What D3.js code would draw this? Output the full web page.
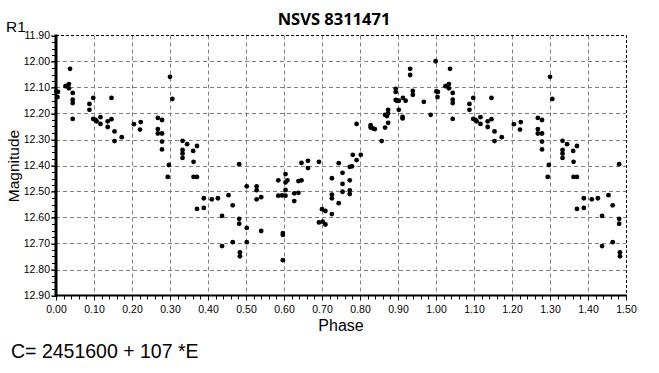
<!DOCTYPE html>
<html>
<head>
<meta charset="utf-8">
<script src="https://cdn.jsdelivr.net/npm/d3@7"></script>
<style>
  body { margin: 0; background: #fff; }
  svg { display: block; font-family: "Liberation Sans", Arial, sans-serif; }
</style>
</head>
<body>
<div class="graph"></div>
<script>
// phase 0..1 observations (phase < 0.5 is repeated at phase + 1)
const phase = [
  0.001, 0.005, 0.004, 0.025, 0.029, 0.034, 0.034, 0.037, 0.044, 0.044, 0.044, 0.044,
  0.088, 0.088, 0.098, 0.098, 0.104, 0.107, 0.117, 0.117, 0.136, 0.136, 0.146, 0.146,
  0.154, 0.154, 0.173, 0.205, 0.223, 0.221, 0.268, 0.279, 0.268, 0.268, 0.279, 0.279,
  0.279, 0.300, 0.306, 0.297, 0.294, 0.333, 0.345, 0.333, 0.333, 0.333, 0.361, 0.371,
  0.362, 0.362, 0.371, 0.371, 0.389, 0.389, 0.410, 0.426, 0.437, 0.437, 0.454, 0.465,
  0.465, 0.482, 0.482, 0.482, 0.484, 0.484, 0.502, 0.502, 0.502, 0.528, 0.528, 0.528,
  0.540, 0.540, 0.585, 0.609, 0.604, 0.604, 0.604, 0.585, 0.595, 0.604, 0.597, 0.597,
  0.597, 0.627, 0.627, 0.638, 0.638, 0.646, 0.646, 0.663, 0.663, 0.692, 0.700, 0.709,
  0.692, 0.702, 0.709, 0.726, 0.726, 0.726, 0.726, 0.744, 0.744, 0.754, 0.754, 0.754,
  0.773, 0.779, 0.773, 0.773, 0.773, 0.781, 0.791, 0.802, 0.791, 0.828, 0.828, 0.835,
  0.839, 0.857, 0.866, 0.866, 0.871, 0.874, 0.874, 0.874, 0.894, 0.894, 0.894, 0.898,
  0.902, 0.902, 0.913, 0.920, 0.912, 0.912, 0.932, 0.932, 0.939, 0.939, 0.968, 0.986,
  0.999
];
const magnitude = [
  12.115, 12.117, 12.137, 12.095, 12.094, 12.087, 12.103, 12.028, 12.121, 12.147, 12.160, 12.221,
  12.163, 12.186, 12.140, 12.221, 12.225, 12.230, 12.214, 12.240, 12.230, 12.252, 12.140, 12.222,
  12.269, 12.306, 12.291, 12.241, 12.233, 12.262, 12.217, 12.225, 12.260, 12.277, 12.277, 12.308,
  12.338, 12.059, 12.144, 12.398, 12.444, 12.305, 12.318, 12.340, 12.354, 12.371, 12.344, 12.325,
  12.386, 12.444, 12.444, 12.567, 12.526, 12.563, 12.530, 12.526, 12.594, 12.710, 12.514, 12.553,
  12.695, 12.395, 12.605, 12.624, 12.734, 12.749, 12.480, 12.640, 12.695, 12.480, 12.495, 12.530,
  12.522, 12.652, 12.457, 12.457, 12.433, 12.465, 12.494, 12.516, 12.515, 12.516, 12.660, 12.667,
  12.764, 12.537, 12.507, 12.505, 12.460, 12.457, 12.390, 12.382, 12.410, 12.386, 12.568, 12.575,
  12.619, 12.616, 12.627, 12.449, 12.512, 12.526, 12.587, 12.391, 12.545, 12.428, 12.471, 12.501,
  12.405, 12.403, 12.457, 12.496, 12.510, 12.359, 12.379, 12.359, 12.240, 12.245, 12.254, 12.258,
  12.260, 12.306, 12.205, 12.254, 12.210, 12.186, 12.199, 12.236, 12.105, 12.117, 12.148, 12.151,
  12.151, 12.186, 12.140, 12.151, 12.213, 12.219, 12.028, 12.052, 12.113, 12.128, 12.155, 12.205,
  11.999
];
const xTicks = [0, 0.1, 0.2, 0.3, 0.4, 0.5, 0.6, 0.7, 0.8, 0.9, 1.0, 1.1, 1.2, 1.3, 1.4, 1.5];
const yTicks = [11.9, 12.0, 12.1, 12.2, 12.3, 12.4, 12.5, 12.6, 12.7, 12.8, 12.9];

const w = 659, h = 373;
const pL = 56, pR = 626, pT = 35.5, pB = 295.5;

let points = phase.map((p, i) => [p, magnitude[i]]);
points = points.concat(points.filter(d => d[0] + 1 <= 1.5).map(d => [d[0] + 1, d[1]]));

const xScale = d3.scaleLinear().domain([0, 1.5]).range([pL, pR]);
const yScale = d3.scaleLinear().domain([11.9, 12.9]).range([pT, pB]);

const svg = d3.select(".graph").append("svg")
  .attr("width", w).attr("height", h);

// grid
svg.append("g").selectAll("line")
  .data(xTicks.slice(1, -1)).enter().append("line")
  .attr("x1", d => Math.round(xScale(d)) + 0.5).attr("x2", d => Math.round(xScale(d)) + 0.5)
  .attr("y1", pT).attr("y2", pB)
  .attr("stroke", "#808080").attr("stroke-dasharray", "4,3");
svg.append("g").selectAll("line")
  .data(yTicks.slice(1, -1)).enter().append("line")
  .attr("y1", d => Math.round(yScale(d)) + 0.5).attr("y2", d => Math.round(yScale(d)) + 0.5)
  .attr("x1", pL).attr("x2", pR)
  .attr("stroke", "#808080").attr("stroke-dasharray", "4,3");

// top and right border
svg.append("path")
  .attr("d", `M${pL},${pT}H${pR + 0.5}V${pB}`)
  .attr("fill", "none").attr("stroke", "#000").attr("stroke-dasharray", "3,2");

// minor ticks
const xMinor = d3.range(0, 76).map(i => i * 0.02);
svg.append("g").selectAll("line")
  .data(xMinor).enter().append("line")
  .attr("x1", d => Math.round(xScale(d)) + 0.5).attr("x2", d => Math.round(xScale(d)) + 0.5)
  .attr("y1", pB).attr("y2", pB + 4)
  .attr("stroke", "#000");
const yMinor = d3.range(0, 41).map(i => 11.9 + i * 0.025);
svg.append("g").selectAll("line")
  .data(yMinor).enter().append("line")
  .attr("y1", d => Math.round(yScale(d)) + 0.5).attr("y2", d => Math.round(yScale(d)) + 0.5)
  .attr("x1", pL - 4).attr("x2", pL)
  .attr("stroke", "#000");

// axes
const xAxis = d3.axisBottom(xScale).tickValues(xTicks).tickFormat(d3.format(".2f")).tickSize(5);
const yAxis = d3.axisLeft(yScale).tickValues(yTicks).tickFormat(d3.format(".2f")).tickSize(5);

const gx = svg.append("g").attr("transform", `translate(0,${pB})`).call(xAxis);
gx.select(".domain").remove();
gx.selectAll("text").attr("font-size", 10.5).attr("fill", "#000").attr("font-family", "Liberation Sans, Arial, sans-serif").attr("dy", "0.95em");

const gy = svg.append("g").attr("transform", `translate(${pL},0)`).call(yAxis);
gy.select(".domain").remove();
gy.selectAll("text").attr("font-size", 10.5).attr("fill", "#000").attr("font-family", "Liberation Sans, Arial, sans-serif").attr("x", -6);

svg.append("line").attr("x1", pL).attr("x2", pL).attr("y1", pT - 1).attr("y2", pB + 1.5)
  .attr("stroke", "#000").attr("stroke-width", 3);
svg.append("line").attr("x1", pL).attr("x2", pR + 1).attr("y1", pB).attr("y2", pB)
  .attr("stroke", "#000").attr("stroke-width", 2);

// data
svg.append("g").selectAll("circle")
  .data(points).enter().append("circle")
  .attr("cx", d => xScale(d[0]))
  .attr("cy", d => yScale(d[1]))
  .attr("r", 2.4)
  .attr("fill", "#000");

// texts
svg.append("text")
  .attr("x", 334).attr("y", 25)
  .attr("text-anchor", "middle")
  .attr("font-family", "Open Sans, sans-serif")
  .attr("font-weight", "bold").attr("font-size", 16.5)
  .text("NSVS 8311471");

svg.append("text").attr("x", 6).attr("y", 32).attr("font-size", 15.5).text("R1");

svg.append("text")
  .attr("transform", "rotate(-90)")
  .attr("x", -166).attr("y", 19)
  .attr("text-anchor", "middle").attr("font-size", 15.5)
  .text("Magnitude");

svg.append("text")
  .attr("x", 341).attr("y", 331)
  .attr("text-anchor", "middle").attr("font-size", 16)
  .text("Phase");

svg.append("text")
  .attr("x", 11).attr("y", 358)
  .attr("font-size", 19.5)
  .text("C= 2451600 + 107 *E");
</script>
</body>
</html>
